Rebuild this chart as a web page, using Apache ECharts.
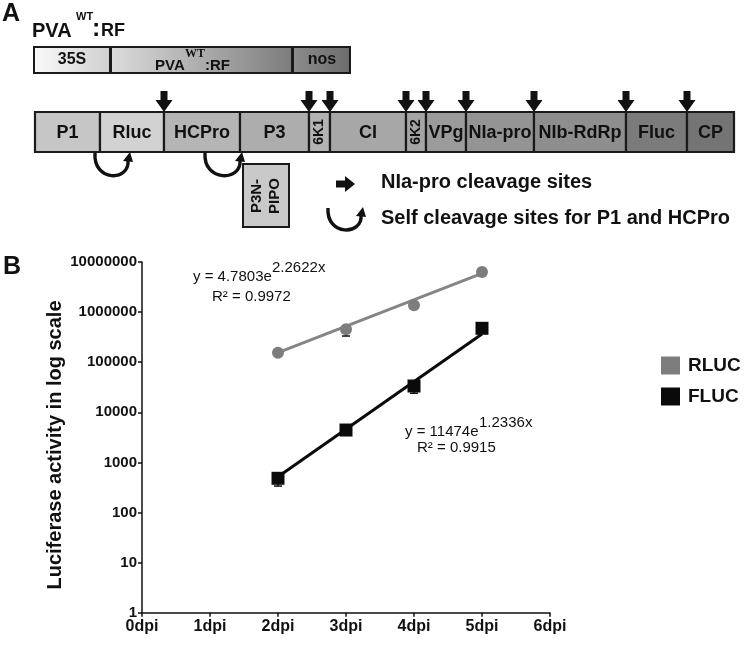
<!DOCTYPE html>
<html>
<head>
<meta charset="utf-8">
<script src="https://cdn.jsdelivr.net/npm/echarts@6/dist/echarts.min.js"></script>
<style>
  html, body { margin: 0; padding: 0; background: #fff; }
  #main { width: 750px; height: 647px; }
</style>
</head>
<body>
<div id="main"></div>
<script>
// chart B data
var days = [2, 3, 4, 5];
var rlucValues = [155000, 454000, 1370000, 6300000];
var flucValues = [482, 4430, 33500, 475000];
var rlucLow = [145000, 333000, 1300000, 6000000];
var rlucHigh = [165000, 500000, 1450000, 6600000];
var flucLow = [337, 4200, 24000, 400000];
var flucHigh = [600, 4700, 40000, 520000];
var trendDays = [2, 5];
var rlucTrend = [155000, 5940000];
var flucTrend = [518, 366000];
var yTicks = [1, 10, 100, 1000, 10000, 100000, 1000000, 10000000];

var FONT = 'Arial, "Liberation Sans", sans-serif';
var chart = echarts.init(document.getElementById('main'));

function pairs(xs, ys) {
  var out = [];
  for (var i = 0; i < xs.length; i++) out.push([xs[i], ys[i]]);
  return out;
}
function errs(xs, lo, hi) {
  var out = [];
  for (var i = 0; i < xs.length; i++) out.push([xs[i], lo[i], hi[i]]);
  return out;
}

// ---- panel A diagram (graphic elements) ----
var g = [];
function txt(x, y, s, size, opt) {
  opt = opt || {};
  g.push({
    type: 'text', x: x, y: y, rotation: opt.rot || 0, z: 10,
    style: {
      text: s, fill: opt.color || '#111',
      font: (opt.weight || 'bold') + ' ' + size + 'px ' + (opt.family || FONT),
      align: opt.align || 'left', verticalAlign: 'middle'
    }
  });
}
function box(x1, x2, y1, y2, fill, lw) {
  g.push({
    type: 'rect', shape: { x: x1, y: y1, width: x2 - x1, height: y2 - y1 },
    style: { fill: fill, stroke: '#1a1a1a', lineWidth: lw || 2 }
  });
}
function grad(c1, c2) {
  return new echarts.graphic.LinearGradient(0, 0, 1, 0, [
    { offset: 0, color: c1 }, { offset: 1, color: c2 }
  ]);
}
function downArrow(c) {
  g.push({
    type: 'polygon', z: 5,
    shape: { points: [[c - 3.5, 91], [c + 3.5, 91], [c + 3.5, 100], [c + 8.5, 100],
      [c, 112], [c - 8.5, 100], [c - 3.5, 100]] },
    style: { fill: '#111' }
  });
}
function selfArrow(x1, y1, xb, yb, x2, y2) {
  g.push({
    type: 'bezierCurve',
    shape: { x1: x1, y1: y1, x2: x2, y2: y2 + 5,
      cpx1: x1 - 2, cpy1: yb + 9, cpx2: x2 + 2, cpy2: yb + 9 },
    style: { stroke: '#111', lineWidth: 3.4, fill: null }
  });
  g.push({
    type: 'polygon',
    shape: { points: [[x2 - 5, y2 + 6], [x2 + 5, y2 + 7], [x2 + 2, y2 - 3]] },
    style: { fill: '#111' }
  });
}

txt(2, 14, 'A', 25);
txt(32, 31, 'PVA', 20);
txt(76, 17, 'WT', 11);
txt(92, 29, ':', 25);
txt(101, 31, 'RF', 18);

box(34, 110, 47, 73, grad('#fafafa', '#cfcfcf'));
box(111, 292, 47, 73, grad('#dcdcdc', '#7c7c7c'));
box(293, 350, 47, 73, grad('#8c8c8c', '#6c6c6c'));
txt(72, 60, '35S', 16, { align: 'center' });
txt(155, 66, 'PVA', 15);
txt(185, 54, 'WT', 12, { family: '"Liberation Serif", serif' });
txt(205, 66, ':RF', 15);
txt(322, 60, 'nos', 16, { align: 'center' });

var parts = [
  ['P1', 35, 100, '#c6c6c6'], ['Rluc', 100, 164, '#d2d2d2'], ['HCPro', 164, 240, '#b5b5b5'],
  ['P3', 240, 309, '#adadad'], ['6K1', 309, 330, '#b2b2b2'], ['CI', 330, 406, '#a7a7a7'],
  ['6K2', 406, 426, '#a4a4a4'], ['VPg', 426, 466, '#9b9b9b'], ['NIa-pro', 466, 534, '#949494'],
  ['NIb-RdRp', 534, 626, '#8e8e8e'], ['Fluc', 626, 687, '#7b7b7b'], ['CP', 687, 734, '#747474']
];
parts.forEach(function (p) {
  box(p[1], p[2], 112, 152, p[3], 2.2);
});
parts.forEach(function (p) {
  var c = (p[1] + p[2]) / 2;
  if (p[0] === '6K1' || p[0] === '6K2') {
    txt(c, 132, p[0], 14, { align: 'center', rot: Math.PI / 2 });
  } else {
    txt(c, 133, p[0], 18, { align: 'center' });
  }
});
[164, 309, 330, 406, 426, 466, 534, 626, 687].forEach(downArrow);

selfArrow(95, 153, 111, 173, 128, 155);
selfArrow(205, 153, 221, 173, 240, 155);

box(243, 289, 164, 227, '#c9c9c9', 2);
txt(257, 196, 'P3N-', 15, { align: 'center', rot: Math.PI / 2 });
txt(275, 196, 'PIPO', 15, { align: 'center', rot: Math.PI / 2 });

g.push({
  type: 'polygon',
  shape: { points: [[336, 180.5], [345, 180.5], [345, 176], [355, 184], [345, 192], [345, 187.5], [336, 187.5]] },
  style: { fill: '#111' }
});
txt(381, 182, 'NIa-pro cleavage sites', 20);
selfArrow(328, 208, 343, 227, 361, 210);
txt(381, 218, 'Self cleavage sites for P1 and HCPro', 20);

// ---- panel B annotations ----
txt(3, 267, 'B', 25);
g.push({
  type: 'text', x: 55, y: 445, rotation: Math.PI / 2,
  style: { text: 'Luciferase activity in log scale', fill: '#111',
    font: 'bold 20px ' + FONT, align: 'center', verticalAlign: 'middle' }
});
txt(193, 277, 'y = 4.7803e', 15, { weight: 'normal' });
txt(272, 268, '2.2622x', 15, { weight: 'normal' });
txt(212, 297, 'R\u00b2 = 0.9972', 15, { weight: 'normal' });
txt(405, 432, 'y = 11474e', 15, { weight: 'normal' });
txt(479, 423, '1.2336x', 15, { weight: 'normal' });
txt(417, 448, 'R\u00b2 = 0.9915', 15, { weight: 'normal' });

function errorBars(params, api) {
  var x = api.value(0);
  var lo = api.coord([x, api.value(1)]);
  var hi = api.coord([x, api.value(2)]);
  var w = 4;
  var st = { stroke: api.visual('color'), lineWidth: 1.5 };
  return {
    type: 'group', children: [
      { type: 'line', shape: { x1: lo[0], y1: lo[1], x2: hi[0], y2: hi[1] }, style: st },
      { type: 'line', shape: { x1: lo[0] - w, y1: lo[1], x2: lo[0] + w, y2: lo[1] }, style: st },
      { type: 'line', shape: { x1: hi[0] - w, y1: hi[1], x2: hi[0] + w, y2: hi[1] }, style: st }
    ]
  };
}

var option = {
  animation: false,
  backgroundColor: '#fff',
  textStyle: { fontFamily: FONT },
  grid: { left: 142, right: 200, top: 262, bottom: 34.3 },
  legend: {
    orient: 'vertical', left: 656, top: 351, itemWidth: 19, itemHeight: 18, itemGap: 12,
    icon: 'rect',
    data: ['RLUC', 'FLUC'],
    textStyle: { fontSize: 19, fontWeight: 'bold', color: '#111', padding: [0, 0, 0, 3] }
  },
  xAxis: {
    type: 'value', min: 0, max: 6, interval: 1,
    axisLine: { lineStyle: { color: '#111', width: 1.5 } },
    axisTick: { show: true, length: 4, lineStyle: { color: '#111', width: 1.5 } },
    splitLine: { show: false },
    axisLabel: { formatter: '{value}dpi', fontSize: 16, fontWeight: 'bold', color: '#111', margin: 6 }
  },
  yAxis: {
    type: 'log', logBase: 10, min: yTicks[0], max: yTicks[yTicks.length - 1],
    axisLine: { show: true, lineStyle: { color: '#111', width: 1.5 } },
    axisTick: { show: true, length: 4, lineStyle: { color: '#111', width: 1.5 } },
    splitLine: { show: false },
    axisLabel: {
      fontSize: 15, fontWeight: 'bold', color: '#111', margin: 5,
      formatter: function (v) { return String(Math.round(v)); }
    }
  },
  graphic: g,
  series: [
    { name: 'rlucTrend', type: 'line', data: pairs(trendDays, rlucTrend), showSymbol: false,
      lineStyle: { color: '#858585', width: 3 }, z: 2 },
    { name: 'flucTrend', type: 'line', data: pairs(trendDays, flucTrend), showSymbol: false,
      lineStyle: { color: '#0a0a0a', width: 3 }, z: 2 },
    { name: 'rlucErr', type: 'custom', renderItem: errorBars, data: errs(days, rlucLow, rlucHigh),
      itemStyle: { color: '#111' }, z: 3 },
    { name: 'flucErr', type: 'custom', renderItem: errorBars, data: errs(days, flucLow, flucHigh),
      itemStyle: { color: '#111' }, z: 3 },
    { name: 'RLUC', type: 'scatter', data: pairs(days, rlucValues), symbol: 'circle', symbolSize: 12,
      itemStyle: { color: '#7d7d7d', opacity: 1 }, z: 4 },
    { name: 'FLUC', type: 'scatter', data: pairs(days, flucValues), symbol: 'rect', symbolSize: 13,
      itemStyle: { color: '#0a0a0a', opacity: 1 }, z: 4 }
  ]
};
chart.setOption(option);
</script>
</body>
</html>
